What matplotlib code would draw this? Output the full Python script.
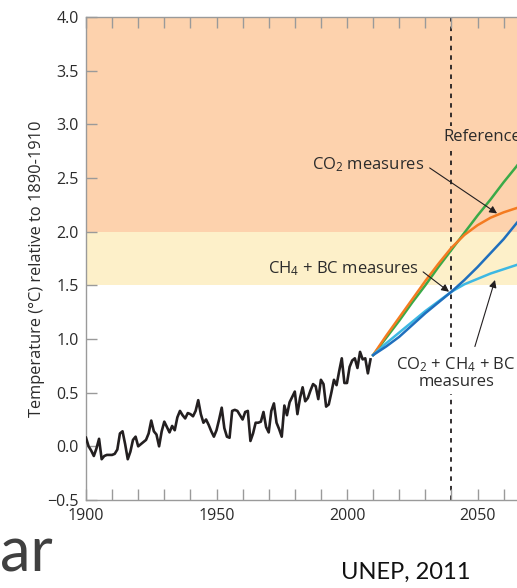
import numpy as np
import matplotlib
matplotlib.use("Agg")
import matplotlib.pyplot as plt

plt.rcParams["font.family"] = ["Open Sans", "DejaVu Sans"]
plt.rcParams["mathtext.default"] = "regular"

# observed temperature, 1900-2009 (deg C relative to 1890-1910)
obs_years = np.arange(1900, 2010)
obs_temp = [
    0.08, 0.00, -0.04, -0.09, -0.02, 0.07, -0.12, -0.09, -0.08, -0.08,
    -0.08, -0.07, -0.03, 0.12, 0.14, 0.02, -0.12, -0.05, 0.06, 0.09,
    0.00, 0.02, 0.04, 0.06, 0.12, 0.24, 0.14, 0.11, 0.00, 0.14,
    0.23, 0.18, 0.13, 0.19, 0.15, 0.27, 0.33, 0.29, 0.26, 0.31,
    0.30, 0.28, 0.33, 0.43, 0.30, 0.22, 0.25, 0.20, 0.14, 0.09,
    0.15, 0.25, 0.36, 0.17, 0.09, 0.08, 0.33, 0.34, 0.33, 0.29,
    0.25, 0.32, 0.33, 0.05, 0.12, 0.22, 0.22, 0.23, 0.32, 0.18,
    0.13, 0.33, 0.40, 0.22, 0.16, 0.09, 0.38, 0.29, 0.41, 0.46,
    0.51, 0.30, 0.45, 0.55, 0.42, 0.45, 0.52, 0.58, 0.56, 0.44,
    0.62, 0.58, 0.37, 0.39, 0.50, 0.62, 0.57, 0.70, 0.82, 0.59,
    0.59, 0.74, 0.80, 0.82, 0.73, 0.88, 0.81, 0.82, 0.68, 0.81,
]

# projections, every 5 years
proj_years = np.arange(2010, 2075, 5)
reference = [0.85, 1.01, 1.17, 1.34, 1.50, 1.67, 1.83, 1.99, 2.15, 2.30, 2.46, 2.61, 2.77]
co2_measures = [0.85, 1.03, 1.20, 1.37, 1.54, 1.70, 1.85, 1.97, 2.06, 2.13, 2.18, 2.22, 2.26]
ch4_bc_measures = [0.85, 0.93, 1.02, 1.13, 1.24, 1.34, 1.44, 1.55, 1.67, 1.80, 1.93, 2.08, 2.22]
all_measures = [0.85, 0.96, 1.06, 1.16, 1.26, 1.35, 1.44, 1.51, 1.56, 1.61, 1.65, 1.69, 1.72]

orange_bg = "#fdd2ad"
yellow_bg = "#fdf0c9"
spine_c = "#9a9a9a"
text_c = "#2b2b2b"

fig = plt.figure(figsize=(5.17, 5.88), dpi=100)
ax = fig.add_axes([86 / 517, 88 / 588, 170 * 2.61 / 517, 483 / 588])

ax.axhspan(2.0, 4.0, color=orange_bg, lw=0, zorder=0)
ax.axhspan(1.5, 2.0, color=yellow_bg, lw=0, zorder=0)

ax.axvline(2040, color="#231f20", lw=1.3, ls=(0, (2.5, 2.8)), zorder=1)

ax.plot(obs_years, obs_temp, color="#231f20", lw=1.9, zorder=3)
ax.plot(proj_years, reference, color="#3aaa48", lw=1.8, zorder=3)
ax.plot(proj_years, co2_measures, color="#f47b20", lw=1.8, zorder=3)
ax.plot(proj_years, all_measures, color="#3db8e3", lw=1.8, zorder=3)
ax.plot(proj_years, ch4_bc_measures, color="#1f6fbd", lw=1.8, zorder=4)

arrow = dict(arrowstyle="-|>", lw=0.8, color="#231f20", mutation_scale=11,
             shrinkA=0, shrinkB=0)
fs = 12
ax.annotate("CO$_2$ measures", xy=(2057.5, 2.17), xytext=(2008.0, 2.62),
            ha="center", va="center", fontsize=fs, color=text_c,
            arrowprops=dict(arrow, relpos=(1.05, 0.35)), zorder=5)
ax.annotate("CH$_4$ + BC measures", xy=(2039.1, 1.44), xytext=(1998.5, 1.66),
            ha="center", va="center", fontsize=fs, color=text_c,
            arrowprops=dict(arrow, relpos=(1.03, 0.3)), zorder=5)
ax.text(2036.8, 2.88, "Reference", ha="left", va="center", fontsize=fs,
        color=text_c, zorder=5,
        bbox=dict(facecolor=orange_bg, edgecolor="none", pad=2))
ax.text(2041.8, 0.685, "CO$_2$ + CH$_4$ + BC\nmeasures", ha="center",
        va="center", fontsize=fs, color=text_c, linespacing=1.0, zorder=5,
        bbox=dict(facecolor="white", edgecolor="none", pad=3))
ax.annotate("", xy=(2056.7, 1.55), xytext=(2049.0, 0.93),
            arrowprops=arrow, zorder=5)

ax.set_xlim(1900, 2070)
ax.set_ylim(-0.5, 4.0)
ax.set_xticks([1900, 1950, 2000, 2050])
ax.set_xticks(np.arange(1900, 2071, 10), minor=True)
ax.set_yticks(np.arange(-0.5, 4.01, 0.5))
ax.set_yticklabels(["\u22120.5"] + [f"{v:.1f}" for v in np.arange(0, 4.01, 0.5)])

for side in ["left", "bottom", "top", "right"]:
    ax.spines[side].set_color(spine_c)
    ax.spines[side].set_linewidth(1.0)

ax.tick_params(axis="both", which="both", direction="in", color=spine_c,
               labelcolor=text_c, labelsize=11.5, width=1.0)
ax.tick_params(axis="x", which="both", length=8, top=True, pad=6)
ax.tick_params(axis="y", length=8, pad=5)

fig.text(37 / 517, 1 - 269 / 588, "Temperature (\u00b0C) relative to 1890-1910",
         rotation=90, ha="center", va="center", fontsize=11.8, color=text_c)

fig.text(0.0, 1 - 571 / 588, "ar", ha="left", va="baseline", fontsize=44,
         color="#404040", family=["Lato", "DejaVu Sans"])
fig.text(406 / 517, 1 - 572 / 588, "UNEP, 2011", ha="center", va="center",
         fontsize=17, color="#111111", family=["Lato", "DejaVu Sans"])

fig.savefig("out.png", dpi=100)
